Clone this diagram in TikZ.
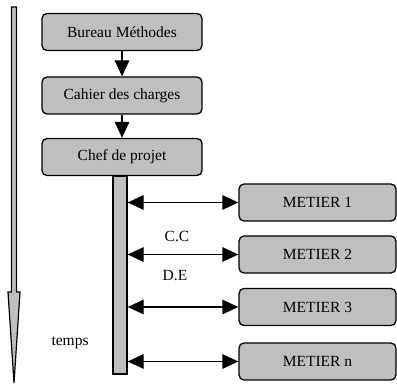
\documentclass[tikz,border=0pt]{standalone}
\usepackage{fontspec}
\setmainfont{Liberation Serif}
\usetikzlibrary{arrows.meta}
\usetikzlibrary{calc}
\tikzset{
boite/.style={draw=black, line width=1.3pt, rounded corners=5pt, fill=black!25, minimum height=37pt, inner sep=0pt},
fleche/.style={line width=1.3pt, -{Triangle[length=16pt,width=14.5pt]}},
dfleche/.style={line width=1.3pt, {Triangle[length=16pt,width=14.5pt]}-{Triangle[length=16pt,width=14.5pt]}}
}

\begin{document}
\begin{tikzpicture}[x=1pt,y=-1pt,font=\fontsize{15.5}{18}\selectfont]
\useasboundingbox (0,0) rectangle (397,385);
\pgfmathsetmacro{\largeur}{160}
\pgfmathsetmacro{\largeurm}{157}

% fleche du temps
\draw[line width=1.2pt, fill=black!25] (11.5,7) -- (16.5,7) -- (16.5,292) -- (20,292) -- (14,383) -- (8,292) -- (11.5,292) -- cycle;
\node[anchor=west] (temps) at (48,343){temps};

\node[boite, minimum width=\largeur pt] (bureau) at (122,32){Bureau Méthodes};
\node[boite, minimum width=\largeur pt] (cahier) at (122,95.5){Cahier des charges};
\node[boite, minimum width=\largeur pt] (chef) at (122,157){Chef de projet};

\draw[fleche] (bureau) -- (cahier);
\draw[fleche] (cahier) -- (chef);

\node[draw=black, line width=1.3pt, fill=black!25, minimum width=14pt, minimum height=198pt, inner sep=0pt, anchor=north] (barre) at (120,175.5){};

\node[boite, minimum width=\largeurm pt] (m1) at (317.5,202.5){METIER 1};
\node[boite, minimum width=\largeurm pt] (m2) at (317.5,254.5){METIER 2};
\node[boite, minimum width=\largeurm pt] (m3) at (317.5,307){METIER 3};
\node[boite, minimum width=\largeurm pt] (mn) at (317.5,361.5){METIER n};

\foreach \m in {m1,m2,m3,mn}
\draw[dfleche] (barre.east |- \m.west) -- (\m.west);

\node (cc) at (177,236){C.C};
\node (de) at (175,276){D.E};

\end{tikzpicture}
\end{document}
